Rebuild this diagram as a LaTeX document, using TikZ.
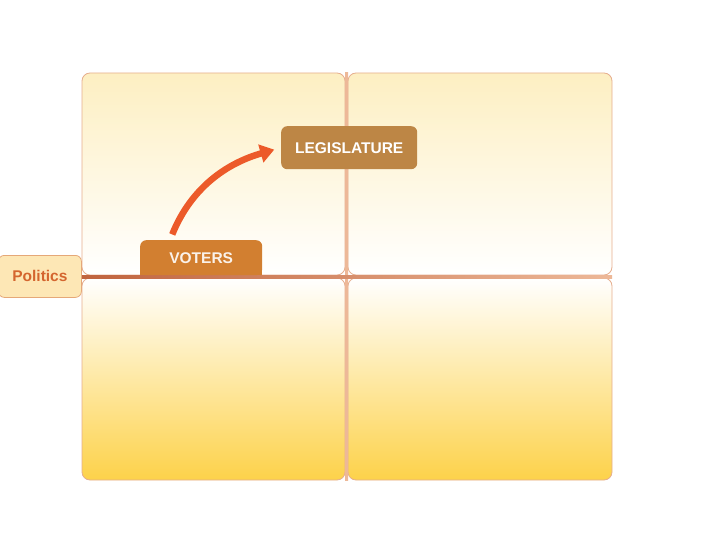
\documentclass[tikz,border=0pt]{standalone}
\usepackage{fontspec}
\setmainfont{Liberation Sans}
\usetikzlibrary{arrows.meta,positioning}
\definecolor{paneltop}{HTML}{FDEFC2}
\definecolor{panelmid}{HTML}{FEF4D8}
\definecolor{panelgold}{HTML}{FDD24A}
\definecolor{panelgoldmid}{HTML}{FEE9A8}
\definecolor{panelrim}{HTML}{E6AE8E}
\definecolor{dividerdark}{HTML}{B8552E}
\definecolor{dividerlight}{HTML}{EDB898}
\definecolor{polfill}{HTML}{FDE7B5}
\definecolor{polrim}{HTML}{E5A878}
\definecolor{poltext}{HTML}{D4652E}
\definecolor{votefill}{HTML}{D27F30}
\definecolor{legfill}{HTML}{BD8645}
\definecolor{arrowred}{HTML}{EC5A2A}
\begin{document}
\begin{tikzpicture}[x=1pt, y=-1pt,
    toppanel/.style = {draw=panelrim, line width=0.8pt, rounded corners=8pt,
                       top color=paneltop, middle color=panelmid, bottom color=white},
    lowpanel/.style = {draw=panelrim, line width=0.8pt, rounded corners=8pt,
                       top color=white, middle color=panelgoldmid, bottom color=panelgold},
    tag/.style = {rounded corners=6pt, text=white, font=\bfseries\fontsize{15.5}{18}\selectfont,
                  inner sep=0pt, anchor=north west}]
\useasboundingbox (0,0) rectangle (720,540);
% quadrants
\path[toppanel] (82,73) rectangle (345,275);
\path[toppanel] (348,73) rectangle (612,275);
\path[lowpanel] (82,278) rectangle (345,480);
\path[lowpanel] (348,278) rectangle (612,480);
% cross dividers
\shade[top color=dividerlight, middle color=dividerdark, bottom color=dividerlight]
    (345,73) rectangle (348,480);
\shade[left color=dividerdark!85!dividerlight, middle color=dividerdark, right color=dividerlight]
    (82,275) rectangle (612,278);
% labels
\node[draw=polrim, fill=polfill, rounded corners=6pt, line width=0.8pt, anchor=north west,
      minimum width=83pt, minimum height=42pt, text=poltext,
      font=\bfseries\fontsize{15.5}{18}\selectfont] (pol) at (-2,255) {Politics};
\node[tag, fill=votefill, minimum width=122pt, minimum height=35pt,
      text=white!90!votefill] (voters) at (140,240) {VOTERS};
\fill[votefill] ([yshift=6pt]voters.south west) rectangle (voters.south east);
\node[tag, fill=legfill, minimum width=136pt, minimum height=43pt] (legis) at (281,126) {LEGISLATURE};
% arrow
\draw[arrowred, line width=6.5pt, -{Triangle[length=14pt, width=18pt]}, shorten <=6pt, shorten >=7pt]
    ([xshift=30pt]voters.north west) to[out=68, in=196] (legis.west);
\end{tikzpicture}
\end{document}
